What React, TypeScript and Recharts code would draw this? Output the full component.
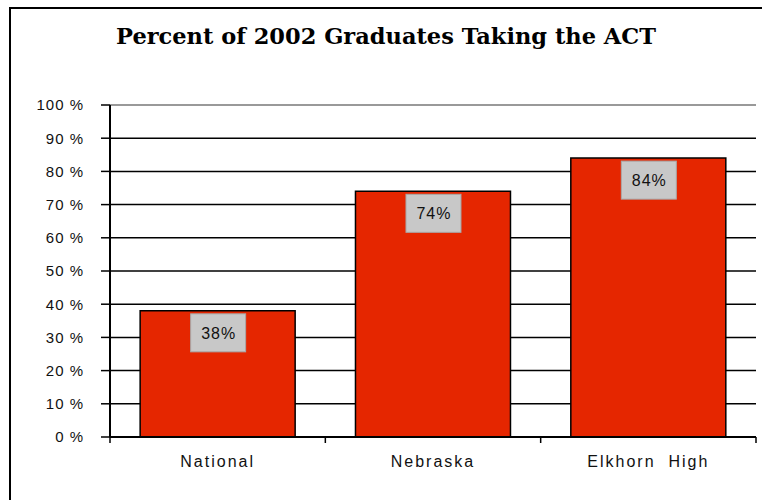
import { Bar, BarChart, CartesianGrid, LabelList, ReferenceLine, XAxis, YAxis } from 'recharts';

const categories = ['National', 'Nebraska', 'Elkhorn\u00a0 High'];
const percentTaking = [38, 74, 84];
const yTicks = [0, 10, 20, 30, 40, 50, 60, 70, 80, 90, 100];

const chartData = categories.map((name, i) => ({ name, value: percentTaking[i] }));

const W = 762;
const H = 500;
const margin = { top: 105, right: 6, left: 0, bottom: 23 };
const yAxisWidth = 110;
const plotWidth = W - margin.left - margin.right - yAxisWidth;
const halfStep = plotWidth / categories.length / 2;

const XTick = (props: any) => {
    const { x, y, payload, index } = props;
    const half = payload && payload.offset ? payload.offset : halfStep;
    const top = y - 8;
    return (
        <g>
            <line x1={x - half} x2={x - half} y1={top} y2={top + 6} stroke="#000" strokeWidth={1.5} />
            {index === categories.length - 1 && (
                <line x1={x + half} x2={x + half} y1={top} y2={top + 6} stroke="#000" strokeWidth={1.5} />
            )}
            <text
                x={x}
                y={y + 22}
                textAnchor="middle"
                fill="#111"
                fontSize={16}
                letterSpacing={2}
                fontFamily="Liberation Sans, Arial, sans-serif"
            >
                {payload.value}
            </text>
        </g>
    );
};

const ValueLabel = (props: any) => {
    const { x, y, width, value } = props;
    const cx = x + width / 2;
    return (
        <g>
            <rect x={cx - 27} y={y + 3} width={55} height={38} fill="#c8c8c8" stroke="#a8a8a8" strokeWidth={1} />
            <text
                x={cx + 1}
                y={y + 28}
                textAnchor="middle"
                fill="#111"
                fontSize={16}
                letterSpacing={1}
                fontFamily="Liberation Sans, Arial, sans-serif"
            >
                {`${value}%`}
            </text>
        </g>
    );
};

export default function App() {
    return (
        <div style={{ position: 'absolute', left: 0, top: 0, width: W, height: H, background: '#fff' }}>
            <div
                style={{
                    position: 'absolute',
                    left: 9,
                    top: 7,
                    width: W - 9,
                    height: H - 7,
                    borderTop: '2px solid #000',
                    borderLeft: '2px solid #000',
                    boxSizing: 'border-box',
                }}
            />
            <div
                style={{
                    position: 'absolute',
                    left: 10,
                    width: W - 10,
                    top: 23,
                    textAlign: 'center',
                    fontFamily: 'DejaVu Serif, serif',
                    fontWeight: 'bold',
                    fontSize: 22.5,
                    color: '#000',
                }}
            >
                Percent of 2002 Graduates Taking the ACT
            </div>
            <BarChart
                width={W}
                height={H}
                data={chartData}
                margin={margin}
                barCategoryGap="14%"
                style={{ position: 'absolute', left: 0, top: 0 }}
            >
                <CartesianGrid vertical={false} stroke="#000" strokeWidth={1.5} horizontalValues={yTicks.slice(0, -1)} />
                <XAxis
                    dataKey="name"
                    height={40}
                    axisLine={{ stroke: '#000', strokeWidth: 2 }}
                    tickLine={false}
                    tick={<XTick />}
                    interval={0}
                />
                <XAxis xAxisId="edge" type="number" domain={[0, 3]} hide />
                <YAxis
                    width={yAxisWidth}
                    domain={[0, 100]}
                    ticks={yTicks}
                    tickFormatter={(v) => `${v} %`}
                    axisLine={{ stroke: '#000', strokeWidth: 2 }}
                    tickLine={{ stroke: '#000', strokeWidth: 1.5 }}
                    tickSize={9}
                    tickMargin={17}
                    tick={{ fill: '#111', fontSize: 15, letterSpacing: 1, fontFamily: 'Liberation Sans, Arial, sans-serif' }}
                />
                <ReferenceLine y={100} stroke="#999" strokeWidth={2} />
                <ReferenceLine x={3} xAxisId="edge" stroke="#999" strokeWidth={2} />
                <Bar dataKey="value" fill="#e52600" stroke="#000" strokeWidth={1.5} isAnimationActive={false}>
                    <LabelList dataKey="value" content={<ValueLabel />} />
                </Bar>
            </BarChart>
        </div>
    );
}
